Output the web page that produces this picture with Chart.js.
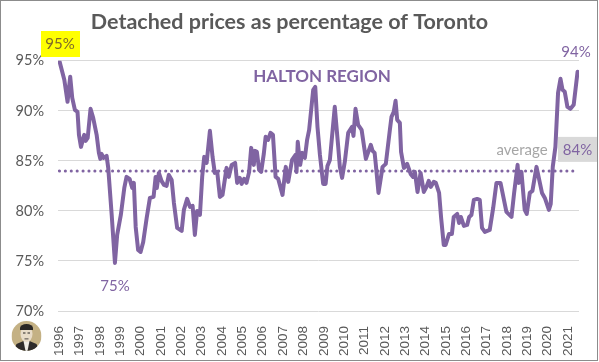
<!DOCTYPE html>
<html lang="en">
<head>
    <meta charset="UTF-8">
    <title>Detached prices as percentage of Toronto</title>
    <script src="https://cdn.jsdelivr.net/npm/chart.js"></script>
    <style>
        body { margin: 0; background: #fff; }
        #frame {
            position: absolute; left: 0; top: 0;
            width: 598px; height: 361px;
            box-sizing: border-box;
            border: 1.5px solid #8c8c8c;
        }
        #chart { position: absolute; left: 0; top: 0; }
    </style>
</head>
<body>
    <div id="frame"></div>
    <canvas id="chart" width="599" height="362"></canvas>

    <script>
        const chartTitle = 'Detached prices as percentage of Toronto';
        const yearLabels = [1996, 1997, 1998, 1999, 2000, 2001, 2002, 2003, 2004, 2005, 2006, 2007, 2008,
            2009, 2010, 2011, 2012, 2013, 2014, 2015, 2016, 2017, 2018, 2019, 2020, 2021];

        // Decimal year and percent of Toronto
        const dates = [
            1996.01, 1996.24, 1996.40, 1996.53, 1996.63, 1996.76, 1996.89, 1996.96, 1997.06, 1997.22,
            1997.29, 1997.39, 1997.53, 1997.66, 1997.83, 1997.94, 1998.01, 1998.07, 1998.17, 1998.32,
            1998.40, 1998.57, 1998.73, 1998.84, 1999.02, 1999.19, 1999.30, 1999.45, 1999.58, 1999.66,
            1999.75, 1999.87, 1999.99, 2000.12, 2000.29, 2000.45, 2000.63, 2000.73, 2000.79, 2000.89,
            2001.02, 2001.14, 2001.27, 2001.38, 2001.52, 2001.63, 2001.79, 2002.01, 2002.12, 2002.28,
            2002.42, 2002.55, 2002.66, 2002.77, 2002.91, 2003.02, 2003.12, 2003.24, 2003.40, 2003.53,
            2003.64, 2003.76, 2003.89, 2004.02, 2004.22, 2004.33, 2004.47, 2004.64, 2004.74, 2004.87,
            2004.96, 2005.08, 2005.20, 2005.33, 2005.43, 2005.56, 2005.61, 2005.71, 2005.82, 2005.92,
            2006.05, 2006.14, 2006.26, 2006.38, 2006.50, 2006.63, 2006.76, 2006.97, 2007.13, 2007.25,
            2007.44, 2007.61, 2007.66, 2007.72, 2007.84, 2007.94, 2008.07, 2008.18, 2008.28, 2008.48,
            2008.58, 2008.69, 2008.81, 2008.97, 2009.09, 2009.18, 2009.30, 2009.54, 2009.71, 2009.79,
            2009.90, 2010.04, 2010.20, 2010.39, 2010.46, 2010.56, 2010.69, 2010.86, 2011.07, 2011.31,
            2011.40, 2011.50, 2011.56, 2011.69, 2011.89, 2012.05, 2012.25, 2012.33, 2012.44, 2012.53,
            2012.61, 2012.74, 2012.80, 2012.94, 2013.10, 2013.27, 2013.39, 2013.48, 2013.61, 2013.76,
            2013.92, 2014.05, 2014.16, 2014.26, 2014.41, 2014.51, 2014.67, 2014.77, 2014.90, 2014.99,
            2015.16, 2015.30, 2015.39, 2015.56, 2015.65, 2015.74, 2015.89, 2016.05, 2016.15, 2016.26,
            2016.38, 2016.54, 2016.67, 2016.78, 2016.92, 2017.16, 2017.33, 2017.49, 2017.69, 2017.98,
            2018.23, 2018.36, 2018.53, 2018.59, 2018.72, 2018.88, 2018.98, 2019.13, 2019.26, 2019.46,
            2019.73, 2019.87, 2020.07, 2020.16, 2020.26, 2020.39, 2020.52, 2020.64, 2020.74, 2020.85,
            2020.98, 2021.13, 2021.29, 2021.48
        ];
        const halton = [
            94.9, 93.1, 90.9, 93.4, 91.3, 90.1, 89.9, 87.6, 86.4, 87.6,
            87.0, 87.3, 90.2, 89.3, 87.6, 85.8, 85.2, 85.7, 85.3, 85.5,
            84.3, 79.6, 74.8, 77.6, 79.6, 82.3, 83.4, 83.2, 82.3, 82.8,
            78.4, 76.1, 75.9, 76.9, 79.3, 81.3, 81.4, 83.4, 82.3, 83.8,
            83.0, 82.6, 82.5, 83.6, 83.1, 80.8, 78.3, 78.0, 80.1, 81.2,
            80.4, 80.5, 77.6, 80.0, 79.6, 83.4, 85.4, 84.8, 88.0, 85.4,
            83.8, 83.9, 81.4, 81.6, 84.3, 83.4, 84.6, 84.8, 82.8, 83.3,
            82.7, 83.2, 82.8, 83.9, 86.3, 84.6, 86.0, 85.9, 84.1, 83.9,
            85.7, 87.4, 87.1, 87.8, 87.6, 83.4, 83.2, 81.6, 84.4, 82.9,
            85.1, 85.6, 83.9, 86.9, 84.6, 85.8, 85.3, 87.1, 88.1, 92.1,
            92.4, 88.4, 85.6, 82.7, 82.7, 84.5, 85.1, 90.4, 86.4, 84.4,
            83.3, 85.0, 87.8, 88.4, 87.5, 90.2, 88.6, 88.1, 85.2, 86.6,
            86.0, 85.8, 84.6, 81.8, 84.4, 84.7, 88.1, 89.4, 89.9, 91.0,
            89.1, 88.8, 85.9, 84.3, 84.7, 83.7, 83.4, 83.9, 81.9, 83.8,
            81.9, 82.4, 83.0, 82.4, 82.9, 82.8, 81.8, 79.3, 76.6, 76.6,
            77.7, 77.7, 79.4, 79.7, 78.8, 79.4, 78.5, 78.6, 79.4, 79.6,
            81.1, 81.2, 81.1, 78.3, 77.9, 78.1, 80.3, 82.8, 82.8, 79.9,
            79.4, 81.8, 84.6, 82.8, 83.9, 80.1, 79.7, 81.8, 82.0, 84.4,
            81.8, 81.3, 80.1, 80.7, 84.4, 86.4, 91.8, 93.2, 92.1, 91.9,
            90.4, 90.2, 90.6, 93.9
        ];
        const averageDates = [1996, 2021.25];
        const averageValues = [84, 84];

        const purple = '#8064a2';
        const labelGrey = '#595959';

        function toPoints(xs, ys) {
            return xs.map((x, i) => ({ x: x, y: ys[i] }));
        }

        // Labels, highlight boxes and the little portrait
        const extras = {
            id: 'extras',
            beforeDatasetsDraw(chart) {
                const { ctx, scales: { y } } = chart;
                ctx.save();
                // grey box behind the 84% label
                ctx.fillStyle = '#d9d9d9';
                ctx.fillRect(558, y.getPixelForValue(84) - 34, 39, 25);
                ctx.restore();
            },
            afterDraw(chart) {
                const { ctx, scales: { x, y } } = chart;
                ctx.save();
                ctx.textAlign = 'center';
                ctx.textBaseline = 'middle';

                ctx.fillStyle = '#ffff00';
                ctx.fillRect(41, 31, 39, 26);
                ctx.font = '15px Lato';
                ctx.fillStyle = '#7f6a2a';
                ctx.fillText('95%', 60, 44);

                ctx.fillStyle = purple;
                ctx.fillText('75%', x.getPixelForValue(1998.73), y.getPixelForValue(72.5));
                ctx.fillText('94%', 576, 52);
                ctx.fillText('84%', 577.5, y.getPixelForValue(86.1));

                ctx.fillStyle = '#a6a6a6';
                ctx.fillText('average', 522, y.getPixelForValue(86.1));

                ctx.fillStyle = purple;
                ctx.font = 'bold 17px Lato';
                ctx.fillText('HALTON REGION', 322, 77);

                drawPortrait(ctx, 26.5, 336, 15);
                ctx.restore();
            }
        };

        function drawPortrait(ctx, cx, cy, r) {
            ctx.save();
            ctx.beginPath();
            ctx.arc(cx, cy, r, 0, Math.PI * 2);
            ctx.clip();
            ctx.fillStyle = '#c4b184';
            ctx.fillRect(cx - r, cy - r, r * 2, r * 2);
            // jacket
            ctx.fillStyle = '#2e2b2a';
            ctx.beginPath();
            ctx.moveTo(cx - 13, cy + r);
            ctx.lineTo(cx - 10, cy + 8);
            ctx.lineTo(cx - 3, cy + 5);
            ctx.lineTo(cx + 3, cy + 5);
            ctx.lineTo(cx + 10, cy + 8);
            ctx.lineTo(cx + 13, cy + r);
            ctx.fill();
            // shirt
            ctx.fillStyle = '#f0ede6';
            ctx.beginPath();
            ctx.moveTo(cx - 3, cy + 5);
            ctx.lineTo(cx + 3, cy + 5);
            ctx.lineTo(cx + 1, cy + r);
            ctx.lineTo(cx - 1, cy + r);
            ctx.fill();
            // face
            ctx.fillStyle = '#e8dcc8';
            ctx.beginPath();
            ctx.ellipse(cx, cy - 2, 6, 8, 0, 0, Math.PI * 2);
            ctx.fill();
            // hair
            ctx.fillStyle = '#2a2725';
            ctx.beginPath();
            ctx.ellipse(cx, cy - 8, 6.5, 4, 0, Math.PI, Math.PI * 2);
            ctx.fill();
            ctx.fillRect(cx - 6.5, cy - 8, 13, 2);
            ctx.fillRect(cx - 3.5, cy - 3.5, 2.5, 1);
            ctx.fillRect(cx + 1, cy - 3.5, 2.5, 1);
            ctx.fillRect(cx - 2, cy + 2.5, 4, 0.8);
            ctx.restore();
        }

        new Chart(document.getElementById('chart'), {
            type: 'line',
            data: {
                datasets: [
                    {
                        label: 'Halton Region',
                        data: toPoints(dates, halton),
                        borderColor: purple,
                        borderWidth: 4,
                        pointRadius: 0,
                        tension: 0,
                        borderJoinStyle: 'round',
                        borderCapStyle: 'round'
                    },
                    {
                        label: 'Average',
                        data: toPoints(averageDates, averageValues),
                        borderColor: purple,
                        borderWidth: 3,
                        borderDash: [0.1, 5.8],
                        borderCapStyle: 'round',
                        pointRadius: 0
                    }
                ]
            },
            options: {
                responsive: false,
                animation: false,
                layout: { padding: { top: 0, right: 20, bottom: 0, left: 0 } },
                plugins: {
                    legend: { display: false },
                    tooltip: { enabled: false },
                    title: {
                        display: true,
                        text: chartTitle,
                        color: labelGrey,
                        font: { family: 'Lato', size: 21.5, weight: 'bold' },
                        padding: { top: 9, bottom: 26 }
                    }
                },
                scales: {
                    x: {
                        type: 'linear',
                        min: 1995.93,
                        max: 2021.55,
                        grid: { display: false },
                        border: { display: false },
                        afterBuildTicks(axis) {
                            axis.ticks = yearLabels.map(v => ({ value: v }));
                        },
                        afterFit(axis) {
                            axis.height = 51;
                        },
                        ticks: {
                            autoSkip: false,
                            minRotation: 90,
                            maxRotation: 90,
                            padding: 7,
                            color: labelGrey,
                            font: { family: 'Liberation Sans', size: 13.5 },
                            callback: v => String(v)
                        }
                    },
                    y: {
                        min: 70,
                        max: 95,
                        afterFit(axis) {
                            axis.width = 58;
                        },
                        grid: { color: '#d9d9d9', lineWidth: 1, drawTicks: false },
                        border: { display: false },
                        ticks: {
                            stepSize: 5,
                            padding: 14,
                            color: labelGrey,
                            font: { family: 'Lato', size: 14.5 },
                            callback: v => v + '%'
                        }
                    }
                }
            },
            plugins: [extras]
        });
    </script>
</body>
</html>
